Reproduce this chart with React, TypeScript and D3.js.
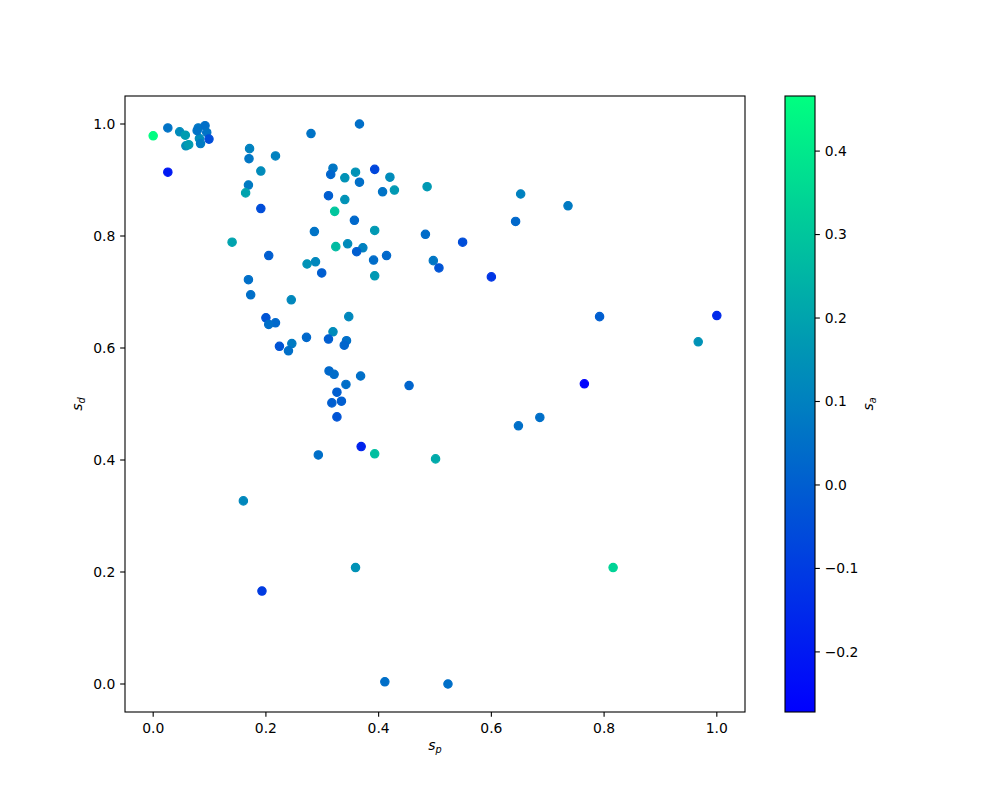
import React from "react";
import * as d3 from "d3";

// s_p values (x)
const spValues = [
  0.0, 0.026, 0.047, 0.057, 0.058, 0.063, 0.08, 0.092, 0.095, 0.099, 0.082, 0.084, 0.078, 0.026,
  0.28, 0.171, 0.17, 0.217, 0.191, 0.169, 0.164, 0.191, 0.286, 0.14, 0.205, 0.273, 0.288, 0.299,
  0.169, 0.173, 0.245, 0.366, 0.319, 0.315, 0.359, 0.34, 0.393, 0.42, 0.366, 0.407, 0.428, 0.486,
  0.311, 0.34, 0.322, 0.357, 0.393, 0.483, 0.549, 0.324, 0.345, 0.372, 0.361, 0.391, 0.414, 0.497,
  0.507, 0.393, 0.652, 0.736, 0.643, 0.6, 0.792, 1.0, 0.967, 0.454, 0.765, 0.686, 0.648, 0.501,
  0.2, 0.217, 0.205, 0.347, 0.272, 0.319, 0.311, 0.343, 0.339, 0.224, 0.246, 0.24, 0.312, 0.321,
  0.368, 0.342, 0.326, 0.317, 0.334, 0.326, 0.369, 0.293, 0.393, 0.16, 0.359, 0.193, 0.816, 0.411,
  0.523,
];

// s_d values (y)
const sdValues = [
  0.979, 0.993, 0.986, 0.98, 0.961, 0.963, 0.993, 0.997, 0.985, 0.973, 0.974, 0.965, 0.988, 0.914,
  0.983, 0.956, 0.938, 0.943, 0.916, 0.891, 0.877, 0.849, 0.808, 0.789, 0.765, 0.75, 0.754, 0.734,
  0.722, 0.695, 0.686, 1.0, 0.921, 0.91, 0.914, 0.904, 0.919, 0.905, 0.896, 0.879, 0.882, 0.888,
  0.872, 0.865, 0.844, 0.828, 0.81, 0.803, 0.789, 0.781, 0.786, 0.779, 0.772, 0.757, 0.765, 0.756,
  0.743, 0.729, 0.875, 0.854, 0.826, 0.727, 0.656, 0.658, 0.611, 0.533, 0.536, 0.476, 0.461, 0.402,
  0.654, 0.645, 0.642, 0.656, 0.619, 0.629, 0.616, 0.613, 0.605, 0.603, 0.608, 0.595, 0.559, 0.553,
  0.55, 0.535, 0.521, 0.502, 0.505, 0.477, 0.424, 0.409, 0.411, 0.327, 0.208, 0.166, 0.208, 0.004,
  0.0,
];

// s_a values (colour)
const saValues = [
  0.46, 0.06, 0.13, 0.18, 0.14, 0.18, 0.07, 0.05, 0.06, -0.05, 0.13, 0.08, 0.06, -0.2,
  0.06, 0.1, 0.07, 0.1, 0.13, 0.08, 0.2, -0.05, 0.06, 0.2, 0.0, 0.15, 0.12, 0.0,
  0.05, 0.05, 0.12, 0.05, 0.07, 0.02, 0.15, 0.15, -0.07, 0.13, 0.05, 0.06, 0.17, 0.17,
  0.0, 0.15, 0.3, 0.03, 0.17, 0.04, -0.05, 0.27, 0.13, 0.1, 0.0, 0.04, 0.03, 0.07,
  -0.03, 0.17, 0.1, 0.08, 0.03, -0.12, 0.0, -0.15, 0.15, 0.02, -0.26, 0.05, 0.05, 0.22,
  -0.03, 0.03, 0.05, 0.12, 0.03, 0.13, 0.0, 0.05, 0.02, -0.03, 0.08, 0.05, 0.03, 0.04,
  0.05, 0.05, 0.0, 0.0, 0.0, -0.03, -0.17, 0.05, 0.28, 0.12, 0.15, -0.1, 0.34, 0.05,
  0.05,
];

const axisTicks = [0, 0.2, 0.4, 0.6, 0.8, 1.0];
const colorTicks = [-0.2, -0.1, 0, 0.1, 0.2, 0.3, 0.4];

const FONT = "DejaVu Sans, sans-serif";

export default function App() {
  const left = 125;
  const right = 745;
  const top = 96;
  const bottom = 712;
  const cbLeft = 785;
  const cbRight = 815;
  const tickLen = 4.86;

  const xScale = d3.scaleLinear().domain([-0.05, 1.05]).range([left, right]);
  const yScale = d3.scaleLinear().domain([-0.05, 1.05]).range([bottom, top]);
  const vmin = -0.272;
  const vmax = 0.466;
  const cScale = d3.scaleLinear().domain([vmin, vmax]).range([bottom, top]);
  const winter = d3.interpolateRgb("#0000ff", "#00ff80");
  const color = (v) => winter((v - vmin) / (vmax - vmin));
  const fmt = (v) => {
    const s = d3.format(".1f")(Math.abs(v));
    return v < -1e-9 ? "\u2212" + s : s;
  };

  const points = spValues.map((x, i) => ({ x, y: sdValues[i], v: saValues[i] }));

  return (
    <svg
      width={1000}
      height={800}
      style={{ position: "absolute", left: 0, top: 0, background: "#fff" }}
      fontFamily={FONT}
    >
      <defs>
        <linearGradient id="winter" x1="0" y1="1" x2="0" y2="0">
          {d3.range(0, 1.0001, 0.1).map((t) => (
            <stop key={t} offset={t} stopColor={winter(t)} />
          ))}
        </linearGradient>
      </defs>
      <rect width={1000} height={800} fill="#fff" />

      {/* scatter points */}
      <g>
        {points.map((p, i) => (
          <circle
            key={i}
            cx={xScale(p.x)}
            cy={yScale(p.y)}
            r={4.17}
            fill={color(p.v)}
            stroke={color(p.v)}
            strokeWidth={1.2}
          />
        ))}
      </g>

      {/* axes frame */}
      <rect
        x={left}
        y={top}
        width={right - left}
        height={bottom - top}
        fill="none"
        stroke="#000"
        strokeWidth={1.1}
      />

      {/* x ticks */}
      {axisTicks.map((t) => (
        <g key={"x" + t} transform={`translate(${xScale(t)},${bottom})`}>
          <line y2={tickLen} stroke="#000" strokeWidth={1.1} />
          <text y={21} textAnchor="middle" fontSize={13.9}>
            {fmt(t)}
          </text>
        </g>
      ))}

      {/* y ticks */}
      {axisTicks.map((t) => (
        <g key={"y" + t} transform={`translate(${left},${yScale(t)})`}>
          <line x2={-tickLen} stroke="#000" strokeWidth={1.1} />
          <text x={-9.7} dy="0.35em" textAnchor="end" fontSize={13.9}>
            {fmt(t)}
          </text>
        </g>
      ))}

      {/* axis labels */}
      <text x={(left + right) / 2} y={750} textAnchor="middle" fontSize={13.9} fontStyle="italic">
        s<tspan fontSize={9.7} dy={3}>p</tspan>
      </text>
      <text
        transform={`translate(82,${(top + bottom) / 2}) rotate(-90)`}
        textAnchor="middle"
        fontSize={13.9}
        fontStyle="italic"
      >
        s<tspan fontSize={9.7} dy={3}>d</tspan>
      </text>

      {/* colorbar */}
      <rect
        x={cbLeft}
        y={top}
        width={cbRight - cbLeft}
        height={bottom - top}
        fill="url(#winter)"
        stroke="#000"
        strokeWidth={1.1}
      />
      {colorTicks.map((t) => (
        <g key={"c" + t} transform={`translate(${cbRight},${cScale(t)})`}>
          <line x2={tickLen} stroke="#000" strokeWidth={1.1} />
          <text x={9.7} dy="0.35em" textAnchor="start" fontSize={13.9}>
            {fmt(t)}
          </text>
        </g>
      ))}
      <text
        transform={`translate(873,${(top + bottom) / 2}) rotate(-90)`}
        textAnchor="middle"
        fontSize={13.9}
        fontStyle="italic"
      >
        s<tspan fontSize={9.7} dy={3}>a</tspan>
      </text>
    </svg>
  );
}
